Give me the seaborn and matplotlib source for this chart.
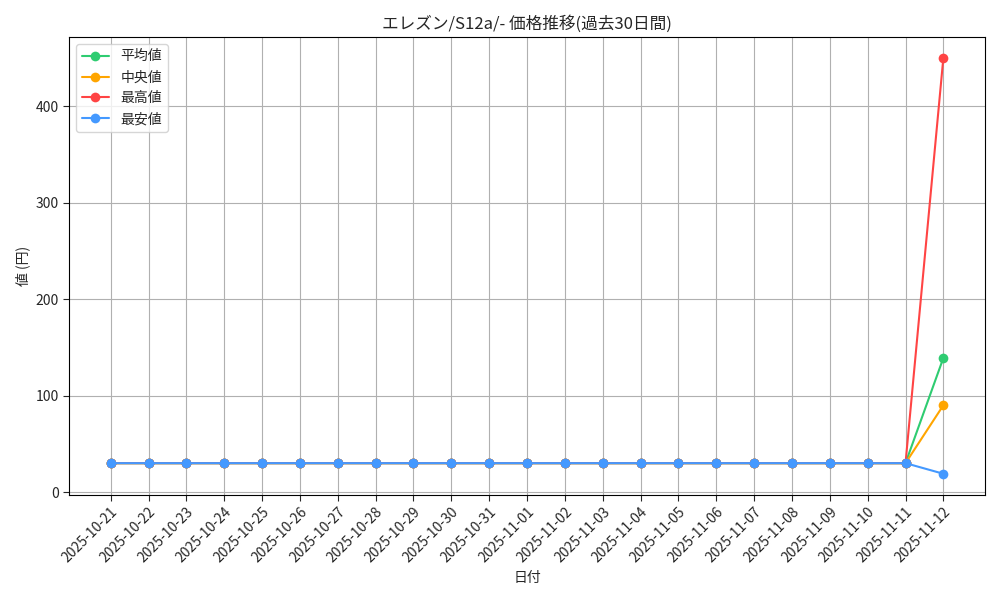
import matplotlib
matplotlib.use("Agg")
import matplotlib.pyplot as plt
import seaborn as sns
import pandas as pd

dates = ["2025-10-21","2025-10-22","2025-10-23","2025-10-24","2025-10-25","2025-10-26",
         "2025-10-27","2025-10-28","2025-10-29","2025-10-30","2025-10-31","2025-11-01",
         "2025-11-02","2025-11-03","2025-11-04","2025-11-05","2025-11-06","2025-11-07",
         "2025-11-08","2025-11-09","2025-11-10","2025-11-11","2025-11-12"]
avg_vals = [30]*22 + [139]
med_vals = [30]*22 + [90]
max_vals = [30]*22 + [450]
min_vals = [30]*22 + [19]

series_names = ["平均値", "中央値", "最高値", "最安値"]
colors = ["#2ecc71", "#ffa500", "#ff4444", "#4499ff"]

sns.set_style("white")
plt.rcParams['font.family'] = ['Noto Sans CJK JP', 'DejaVu Sans']

df = pd.DataFrame({"日付": dates * 4,
                   "値": avg_vals + med_vals + max_vals + min_vals,
                   "系列": sum([[n]*len(dates) for n in series_names], [])})

fig, ax = plt.subplots(figsize=(10, 6), dpi=100)
sns.lineplot(data=df, x="日付", y="値", hue="系列", palette=colors, marker="o",
             markersize=7, markeredgewidth=0, linewidth=1.5, ax=ax, sort=False)
ax.grid(True, color="#b0b0b0", linewidth=0.8)
for s in ax.spines.values():
    s.set_color("black")
ax.set_title("エレズン/S12a/- 価格推移(過去30日間)", fontsize=12)
ax.set_xlabel("日付")
ax.set_ylabel("値 (円)")
plt.setp(ax.get_xticklabels(), rotation=45, ha="right", rotation_mode="anchor")
ax.tick_params(axis="both", length=4, left=True, bottom=True)
ax.legend(title=None, loc="upper left")
plt.tight_layout()
fig.savefig("out.png")
